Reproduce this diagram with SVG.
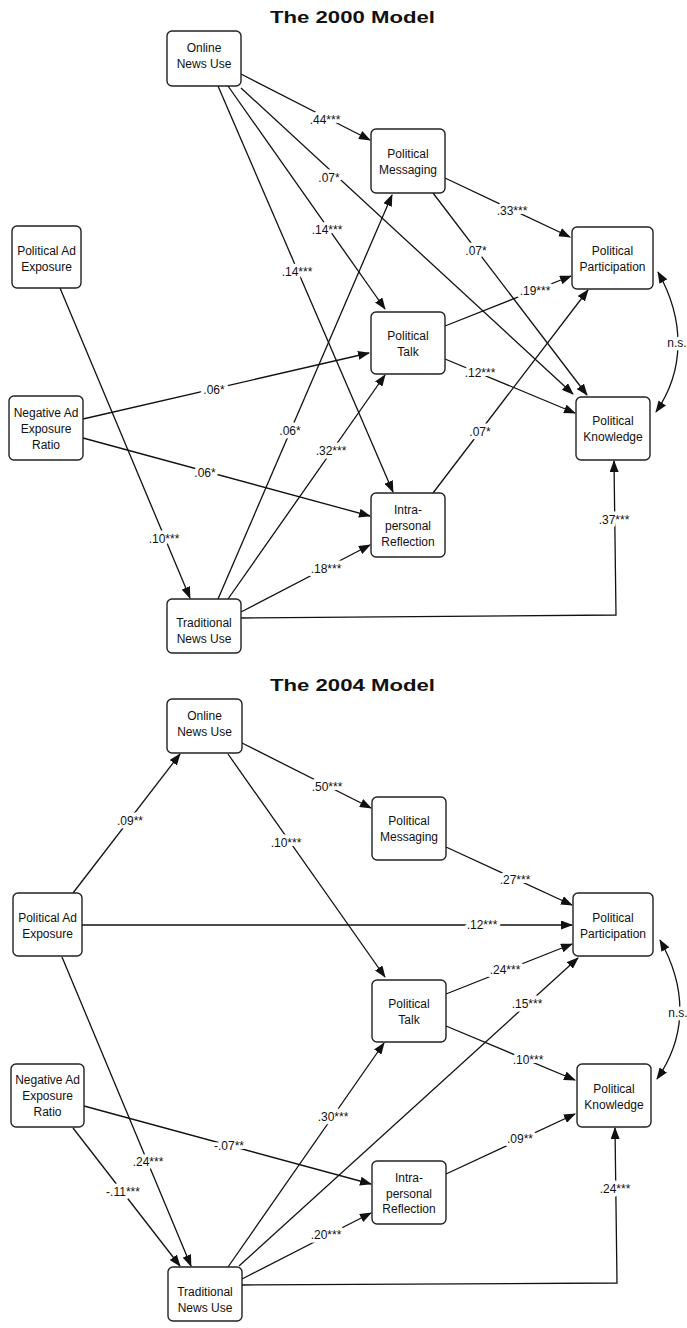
<svg xmlns="http://www.w3.org/2000/svg" width="687" height="1328" viewBox="0 0 687 1328">
<defs>
<style>
.title{font-family:"Liberation Sans",Arial,sans-serif;font-weight:bold;font-size:17px;fill:#111}
.box{fill:#fff;stroke:#222;stroke-width:1.4}
.nt{font-family:"Liberation Sans",Arial,sans-serif;font-size:12px;fill:#111;text-anchor:middle}
.e{fill:none;stroke:#111;stroke-width:1.3}
.a{marker-end:url(#ah)}
.d{marker-start:url(#ah);marker-end:url(#ah)}
.lb{font-family:"Liberation Sans",Arial,sans-serif;font-size:12px;fill:#111;text-anchor:middle;stroke:#fff;stroke-width:7;stroke-linejoin:round;paint-order:stroke}
</style>
<marker id="ah" markerUnits="userSpaceOnUse" markerWidth="12" markerHeight="9" refX="11" refY="4.5" orient="auto-start-reverse">
<path d="M0,0 L12,4.5 L0,9 z" fill="#111"/>
</marker>
</defs>
<rect width="687" height="1328" fill="#fff"/>

<text class="title" x="270" y="23" textLength="165" lengthAdjust="spacingAndGlyphs">The 2000 Model</text>
<text class="title" x="270" y="691" textLength="165" lengthAdjust="spacingAndGlyphs">The 2004 Model</text>

<g id="connectors">
<!-- 2000 model -->
<path class="e a" d="M241,74 L370,140"/>
<path class="e a" d="M241,88 L573,394"/>
<path class="e a" d="M228,86 L385,309"/>
<path class="e a" d="M218,86 L393,492"/>
<path class="e a" d="M445,178 L570,237"/>
<path class="e a" d="M433,193 L587,395"/>
<path class="e a" d="M445,326 L571,276"/>
<path class="e a" d="M433,493 L588,290"/>
<path class="e a" d="M445,359 L575,413"/>
<path class="e a" d="M83,419 L369,353"/>
<path class="e a" d="M83,438 L370,516"/>
<path class="e a" d="M60,288 L190,598"/>
<path class="e a" d="M218,599 L392,195"/>
<path class="e a" d="M228,599 L385,375"/>
<path class="e a" d="M241,612 L370,545"/>
<path class="e a" d="M241,618 L616,615 L614,461"/>
<path class="e d" d="M658,272 C685,320 685,370 656,412"/>
<!-- 2004 model -->
<path class="e a" d="M73,893 L180,754"/>
<path class="e a" d="M242,743 L371,808"/>
<path class="e a" d="M228,754 L385,977"/>
<path class="e a" d="M82,925 L572,925"/>
<path class="e a" d="M446,847 L572,905"/>
<path class="e a" d="M446,994 L572,944"/>
<path class="e a" d="M239,1266 L578,958"/>
<path class="e a" d="M228,1267 L384,1043"/>
<path class="e a" d="M84,1106 L371,1184"/>
<path class="e a" d="M242,1279 L371,1213"/>
<path class="e a" d="M446,1174 L575,1114"/>
<path class="e a" d="M446,1026 L575,1080"/>
<path class="e a" d="M242,1285 L617,1283 L615,1128"/>
<path class="e a" d="M73,1128 L180,1266"/>
<path class="e a" d="M62,957 L191,1266"/>
<path class="e d" d="M660,940 C687,988 687,1036 657,1079"/>
</g>

<g id="edge-labels">
<text class="lb" x="325" y="124">.44***</text>
<text class="lb" x="329" y="182">.07*</text>
<text class="lb" x="327" y="234">.14***</text>
<text class="lb" x="297" y="276">.14***</text>
<text class="lb" x="512" y="215">.33***</text>
<text class="lb" x="476" y="255">.07*</text>
<text class="lb" x="535" y="295">.19***</text>
<text class="lb" x="480" y="436">.07*</text>
<text class="lb" x="480" y="377">.12***</text>
<text class="lb" x="214" y="394">.06*</text>
<text class="lb" x="205" y="477">.06*</text>
<text class="lb" x="164" y="543">.10***</text>
<text class="lb" x="290" y="435">.06*</text>
<text class="lb" x="331" y="455">.32***</text>
<text class="lb" x="326" y="573">.18***</text>
<text class="lb" x="614" y="524">.37***</text>
<text class="lb" x="677" y="347">n.s.</text>

<text class="lb" x="130" y="825">.09**</text>
<text class="lb" x="327" y="791">.50***</text>
<text class="lb" x="286" y="847">.10***</text>
<text class="lb" x="482" y="929">.12***</text>
<text class="lb" x="515" y="884">.27***</text>
<text class="lb" x="505" y="974">.24***</text>
<text class="lb" x="527" y="1008">.15***</text>
<text class="lb" x="333" y="1121">.30***</text>
<text class="lb" x="229" y="1150">-.07**</text>
<text class="lb" x="326" y="1239">.20***</text>
<text class="lb" x="520" y="1143">.09**</text>
<text class="lb" x="528" y="1064">.10***</text>
<text class="lb" x="615" y="1193">.24***</text>
<text class="lb" x="123" y="1196">-.11***</text>
<text class="lb" x="148" y="1166">.24***</text>
<text class="lb" x="678" y="1017">n.s.</text>
</g>

<!-- 2000 model nodes -->
<g id="online2000"><rect class="box" x="167" y="31" width="74" height="55" rx="5"/><text class="nt" x="204" y="52">Online</text><text class="nt" x="204" y="68">News Use</text></g>
<g id="adexp2000"><rect class="box" x="12" y="226" width="69" height="62" rx="5"/><text class="nt" x="46.5" y="254.5">Political Ad</text><text class="nt" x="46.5" y="270.5">Exposure</text></g>
<g id="messaging2000"><rect class="box" x="371" y="129" width="74" height="64" rx="5"/><text class="nt" x="408" y="158">Political</text><text class="nt" x="408" y="174">Messaging</text></g>
<g id="participation2000"><rect class="box" x="572" y="227" width="81" height="62" rx="5"/><text class="nt" x="612.5" y="254.5">Political</text><text class="nt" x="612.5" y="270.5">Participation</text></g>
<g id="talk2000"><rect class="box" x="371" y="312" width="74" height="62" rx="5"/><text class="nt" x="408" y="340">Political</text><text class="nt" x="408" y="356">Talk</text></g>
<g id="knowledge2000"><rect class="box" x="576" y="397" width="74" height="63" rx="5"/><text class="nt" x="613" y="425">Political</text><text class="nt" x="613" y="441">Knowledge</text></g>
<g id="negad2000"><rect class="box" x="9" y="396" width="74" height="64" rx="5"/><text class="nt" x="46" y="416.5">Negative Ad</text><text class="nt" x="46" y="432.5">Exposure</text><text class="nt" x="46" y="448.5">Ratio</text></g>
<g id="reflection2000"><rect class="box" x="371" y="493" width="74" height="64" rx="5"/><text class="nt" x="408" y="514">Intra-</text><text class="nt" x="408" y="530">personal</text><text class="nt" x="408" y="546">Reflection</text></g>
<g id="traditional2000"><rect class="box" x="167" y="599" width="74" height="54" rx="5"/><text class="nt" x="204" y="627">Traditional</text><text class="nt" x="204" y="643">News Use</text></g>

<!-- 2004 model nodes -->
<g id="online2004"><rect class="box" x="167" y="699" width="75" height="54" rx="5"/><text class="nt" x="204.5" y="719.5">Online</text><text class="nt" x="204.5" y="735.5">News Use</text></g>
<g id="adexp2004"><rect class="box" x="13" y="893" width="69" height="63" rx="5"/><text class="nt" x="47.5" y="921.5">Political Ad</text><text class="nt" x="47.5" y="937.5">Exposure</text></g>
<g id="messaging2004"><rect class="box" x="372" y="797" width="74" height="63" rx="5"/><text class="nt" x="409" y="825">Political</text><text class="nt" x="409" y="841">Messaging</text></g>
<g id="participation2004"><rect class="box" x="573" y="893" width="80" height="63" rx="5"/><text class="nt" x="613" y="921.5">Political</text><text class="nt" x="613" y="937.5">Participation</text></g>
<g id="talk2004"><rect class="box" x="372" y="980" width="74" height="62" rx="5"/><text class="nt" x="409" y="1007.5">Political</text><text class="nt" x="409" y="1023.5">Talk</text></g>
<g id="knowledge2004"><rect class="box" x="577" y="1064" width="74" height="63" rx="5"/><text class="nt" x="614" y="1092.5">Political</text><text class="nt" x="614" y="1108.5">Knowledge</text></g>
<g id="negad2004"><rect class="box" x="11" y="1064" width="73" height="63" rx="5"/><text class="nt" x="47.5" y="1084">Negative Ad</text><text class="nt" x="47.5" y="1100">Exposure</text><text class="nt" x="47.5" y="1116">Ratio</text></g>
<g id="reflection2004"><rect class="box" x="372" y="1161" width="74" height="63" rx="5"/><text class="nt" x="409" y="1181.5">Intra-</text><text class="nt" x="409" y="1197.5">personal</text><text class="nt" x="409" y="1213">Reflection</text></g>
<g id="traditional2004"><rect class="box" x="168" y="1267" width="74" height="54" rx="5"/><text class="nt" x="205" y="1295.5">Traditional</text><text class="nt" x="205" y="1311.5">News Use</text></g>
</svg>
